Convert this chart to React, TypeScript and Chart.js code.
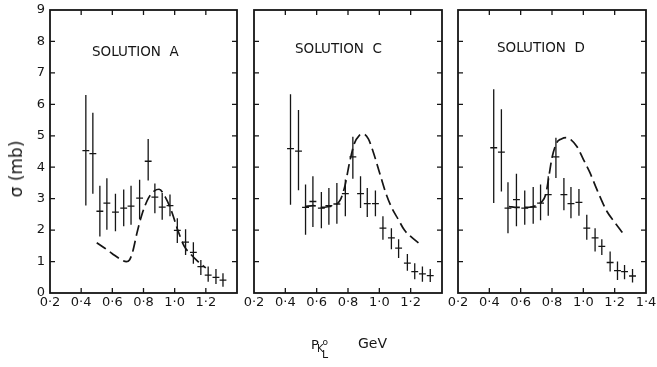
import React, { useEffect, useRef } from "react";
import { Chart, registerables } from "chart.js";

Chart.register(...registerables);

// Axis ticks
const xTickValues = [0.2, 0.4, 0.6, 0.8, 1.0, 1.2, 1.4];
const xTickLabelsFull = ["0·2", "0·4", "0·6", "0·8", "1·0", "1·2", "1·4"];
const xTickLabelsShort = ["0·2", "0·4", "0·6", "0·8", "1·0", "1·2", ""];
const yTickValues = [0, 1, 2, 3, 4, 5, 6, 7, 8, 9];
const yTickLabels = ["0", "1", "2", "3", "4", "5", "6", "7", "8", "9"];

// Measured cross sections (read per panel)
const aP = [0.43, 0.475, 0.52, 0.565, 0.62, 0.673, 0.72, 0.775, 0.83, 0.873, 0.92, 0.97, 1.017, 1.07, 1.12, 1.168, 1.215, 1.265, 1.31];
const aSigma = [4.53, 4.43, 2.6, 2.86, 2.57, 2.7, 2.76, 3.02, 4.19, 3.05, 2.73, 2.78, 1.99, 1.62, 1.29, 0.84, 0.57, 0.5, 0.41];
const aLo = [2.78, 3.16, 1.8, 2.01, 1.96, 2.12, 2.17, 2.35, 3.58, 2.54, 2.33, 2.44, 1.59, 1.21, 0.93, 0.57, 0.36, 0.29, 0.2];
const aHi = [6.3, 5.73, 3.41, 3.65, 3.16, 3.29, 3.41, 3.6, 4.9, 3.48, 3.18, 3.13, 2.38, 2.03, 1.61, 1.05, 0.84, 0.76, 0.63];

const cP = [0.433, 0.484, 0.529, 0.576, 0.63, 0.678, 0.729, 0.783, 0.831, 0.88, 0.923, 0.975, 1.023, 1.077, 1.123, 1.179, 1.226, 1.275, 1.325];
const cSigma = [4.59, 4.51, 2.72, 2.91, 2.7, 2.78, 2.83, 3.16, 4.33, 3.16, 2.84, 2.84, 2.06, 1.75, 1.43, 0.95, 0.68, 0.61, 0.55];
const cLo = [2.81, 3.27, 1.85, 2.1, 2.06, 2.17, 2.2, 2.44, 3.63, 2.7, 2.42, 2.44, 1.69, 1.39, 1.11, 0.71, 0.44, 0.36, 0.35];
const cHi = [6.32, 5.82, 3.45, 3.71, 3.21, 3.34, 3.5, 3.61, 4.97, 3.71, 3.34, 3.26, 2.44, 2.06, 1.71, 1.24, 0.95, 0.84, 0.76];

const dP = [0.428, 0.477, 0.519, 0.573, 0.626, 0.68, 0.727, 0.776, 0.825, 0.876, 0.921, 0.972, 1.022, 1.075, 1.118, 1.171, 1.218, 1.263, 1.314];
const dSigma = [4.62, 4.48, 2.7, 2.97, 2.7, 2.73, 2.86, 3.13, 4.33, 3.13, 2.84, 2.88, 2.06, 1.75, 1.48, 0.97, 0.71, 0.68, 0.54];
const dLo = [2.86, 3.23, 1.9, 2.12, 2.17, 2.2, 2.31, 2.46, 3.66, 2.63, 2.38, 2.46, 1.69, 1.32, 1.21, 0.68, 0.41, 0.44, 0.33];
const dHi = [6.48, 5.84, 3.52, 3.79, 3.26, 3.37, 3.45, 3.71, 4.94, 3.66, 3.37, 3.31, 2.49, 2.06, 1.71, 1.32, 1.0, 0.89, 0.76];

// Fitted curves (dashed)
const aCurveP = [0.5, 0.55, 0.6, 0.65, 0.69, 0.71, 0.73, 0.76, 0.79, 0.83, 0.87, 0.9, 0.94, 0.98, 1.02, 1.06, 1.1, 1.15, 1.2];
const aCurveSigma = [1.6, 1.43, 1.25, 1.08, 1.0, 1.05, 1.3, 1.95, 2.5, 3.0, 3.25, 3.3, 3.05, 2.6, 2.0, 1.5, 1.25, 1.0, 0.8];

const cCurveP = [0.525, 0.58, 0.63, 0.68, 0.72, 0.75, 0.78, 0.81, 0.84, 0.87, 0.9, 0.93, 0.96, 1.0, 1.04, 1.08, 1.12, 1.16, 1.2, 1.26];
const cCurveSigma = [2.75, 2.78, 2.72, 2.75, 2.8, 2.95, 3.4, 4.15, 4.75, 5.0, 5.05, 4.9, 4.5, 3.85, 3.2, 2.7, 2.35, 2.0, 1.8, 1.55];

const dCurveP = [0.525, 0.58, 0.63, 0.68, 0.73, 0.76, 0.78, 0.8, 0.83, 0.86, 0.89, 0.92, 0.96, 1.0, 1.04, 1.09, 1.15, 1.2, 1.25];
const dCurveSigma = [2.75, 2.72, 2.72, 2.75, 2.88, 3.13, 3.7, 4.3, 4.78, 4.9, 4.94, 4.88, 4.65, 4.25, 3.85, 3.25, 2.6, 2.25, 1.92];

const INK = "#151515";
const FONT = "'DejaVu Sans', sans-serif";
const W = 657;
const H = 367;
const PLOT_TOP = 10;
const PLOT_BOTTOM = 293;
const HALF_BIN = 0.022;

type PanelProps = {
  px: number[];
  py: number[];
  lo: number[];
  hi: number[];
  cx: number[];
  cy: number[];
  left: number;
  right: number;
  showY: boolean;
  xLabels: string[];
};

function Panel(p: PanelProps) {
  const ref = useRef<HTMLCanvasElement | null>(null);
  useEffect(() => {
    const canvas = ref.current;
    if (!canvas) return;

    const errorBars = {
      id: "errorBars",
      afterDatasetsDraw(chart: any) {
        const ctx = chart.ctx;
        const xs = chart.scales.x;
        const ys = chart.scales.y;
        ctx.save();
        ctx.strokeStyle = INK;
        ctx.lineWidth = 1.3;
        ctx.setLineDash([]);
        for (let i = 0; i < p.px.length; i++) {
          const x = xs.getPixelForValue(p.px[i]);
          const y = ys.getPixelForValue(p.py[i]);
          const y1 = ys.getPixelForValue(p.lo[i]);
          const y2 = ys.getPixelForValue(p.hi[i]);
          const xa = xs.getPixelForValue(p.px[i] - HALF_BIN);
          const xb = xs.getPixelForValue(p.px[i] + HALF_BIN);
          ctx.beginPath();
          ctx.moveTo(x, y1);
          ctx.lineTo(x, y2);
          ctx.moveTo(xa, y);
          ctx.lineTo(xb, y);
          ctx.stroke();
        }
        ctx.restore();
      },
    };

    const frame = {
      id: "frame",
      afterDraw(chart: any) {
        const ctx = chart.ctx;
        const a = chart.chartArea;
        const xs = chart.scales.x;
        const ys = chart.scales.y;
        ctx.save();
        ctx.strokeStyle = INK;
        ctx.setLineDash([]);
        ctx.lineWidth = 1.8;
        ctx.strokeRect(a.left, a.top, a.right - a.left, a.bottom - a.top);
        ctx.lineWidth = 1.3;
        const len = 5;
        ctx.beginPath();
        for (const v of xTickValues) {
          if (v <= 0.2 || v >= 1.4) continue;
          const x = xs.getPixelForValue(v);
          ctx.moveTo(x, a.bottom);
          ctx.lineTo(x, a.bottom - len);
          ctx.moveTo(x, a.top);
          ctx.lineTo(x, a.top + len);
        }
        for (const v of yTickValues) {
          if (v <= 0 || v >= 9) continue;
          const y = ys.getPixelForValue(v);
          ctx.moveTo(a.left, y);
          ctx.lineTo(a.left + len, y);
          ctx.moveTo(a.right, y);
          ctx.lineTo(a.right - len, y);
        }
        ctx.stroke();
        ctx.restore();
      },
    };

    const yAxisWidth = p.showY ? 50 : 0;
    const chart = new Chart(canvas, {
      type: "scatter",
      data: {
        datasets: [
          {
            type: "line",
            data: p.cx.map((x, i) => ({ x, y: p.cy[i] })),
            borderColor: INK,
            borderWidth: 1.7,
            borderDash: [11, 5],
            pointRadius: 0,
            fill: false,
            cubicInterpolationMode: "monotone",
          } as any,
          {
            type: "scatter",
            data: p.px.map((x, i) => ({ x, y: p.py[i] })),
            pointRadius: 0,
            pointHoverRadius: 0,
          } as any,
        ],
      },
      options: {
        responsive: false,
        animation: false,
        devicePixelRatio: 1,
        events: [],
        layout: {
          padding: {
            left: p.left - yAxisWidth,
            right: W - p.right,
            top: PLOT_TOP,
            bottom: H - PLOT_BOTTOM - 30,
          },
        },
        plugins: {
          legend: { display: false },
          tooltip: { enabled: false },
          title: { display: false },
        },
        scales: {
          x: {
            type: "linear",
            min: 0.2,
            max: 1.4,
            grid: { display: false, drawTicks: false },
            border: { display: false },
            afterBuildTicks: (scale: any) => {
              scale.ticks = xTickValues.map((v) => ({ value: v }));
            },
            afterFit: (scale: any) => {
              scale.height = 30;
              scale.paddingLeft = 0;
              scale.paddingRight = 0;
            },
            ticks: {
              autoSkip: false,
              maxRotation: 0,
              minRotation: 0,
              padding: 2,
              color: INK,
              font: { family: FONT, size: 13 },
              callback: (v: any) => {
                const i = xTickValues.findIndex((t) => Math.abs(t - Number(v)) < 1e-6);
                return i >= 0 ? p.xLabels[i] : "";
              },
            },
          },
          y: {
            type: "linear",
            min: 0,
            max: 9,
            display: p.showY,
            grid: { display: false, drawTicks: false },
            border: { display: false },
            afterBuildTicks: (scale: any) => {
              scale.ticks = yTickValues.map((v) => ({ value: v }));
            },
            afterFit: (scale: any) => {
              scale.width = yAxisWidth;
              scale.paddingTop = 0;
              scale.paddingBottom = 0;
            },
            ticks: {
              autoSkip: false,
              padding: 5,
              color: INK,
              font: { family: FONT, size: 13 },
              callback: (v: any) => {
                const i = yTickValues.indexOf(Math.round(Number(v)));
                return i >= 0 ? yTickLabels[i] : "";
              },
            },
          },
        },
      } as any,
      plugins: [errorBars, frame],
    });
    return () => chart.destroy();
  }, []);
  return (
    <canvas
      ref={ref}
      width={W}
      height={H}
      style={{ position: "absolute", left: 0, top: 0, width: W, height: H }}
    />
  );
}

const textBase: React.CSSProperties = {
  position: "absolute",
  fontFamily: FONT,
  color: INK,
  whiteSpace: "nowrap",
};

export default function App() {
  return (
    <div
      style={{
        position: "fixed",
        left: 0,
        top: 0,
        width: W,
        height: H,
        background: "#fff",
        overflow: "hidden",
      }}
    >
      <Panel px={aP} py={aSigma} lo={aLo} hi={aHi} cx={aCurveP} cy={aCurveSigma} left={50} right={237} showY={true} xLabels={xTickLabelsShort} />
      <Panel px={cP} py={cSigma} lo={cLo} hi={cHi} cx={cCurveP} cy={cCurveSigma} left={254} right={442} showY={false} xLabels={xTickLabelsShort} />
      <Panel px={dP} py={dSigma} lo={dLo} hi={dHi} cx={dCurveP} cy={dCurveSigma} left={458} right={646} showY={false} xLabels={xTickLabelsFull} />

      <div style={{ ...textBase, left: 92, top: 44, fontSize: 13.5, lineHeight: "14px" }}>SOLUTION&nbsp; A</div>
      <div style={{ ...textBase, left: 295, top: 41, fontSize: 13.5, lineHeight: "14px" }}>SOLUTION&nbsp; C</div>
      <div style={{ ...textBase, left: 497, top: 40, fontSize: 13.5, lineHeight: "14px" }}>SOLUTION&nbsp; D</div>

      <div
        style={{
          ...textBase,
          left: 16,
          top: 169,
          fontSize: 17,
          lineHeight: "18px",
          transform: "translate(-50%, -50%) rotate(-90deg)",
        }}
      >
        σ (mb)
      </div>

      <div style={{ ...textBase, left: 311, top: 337.5, fontSize: 13, lineHeight: "13px" }}>P</div>
      <div style={{ ...textBase, left: 317, top: 343.5, fontSize: 10, lineHeight: "10px" }}>K</div>
      <div style={{ ...textBase, left: 322.5, top: 338, fontSize: 9, lineHeight: "9px" }}>o</div>
      <div style={{ ...textBase, left: 322, top: 348.5, fontSize: 11, lineHeight: "11px" }}>L</div>
      <div style={{ ...textBase, left: 358, top: 336, fontSize: 14, lineHeight: "14px" }}>GeV</div>
    </div>
  );
}
